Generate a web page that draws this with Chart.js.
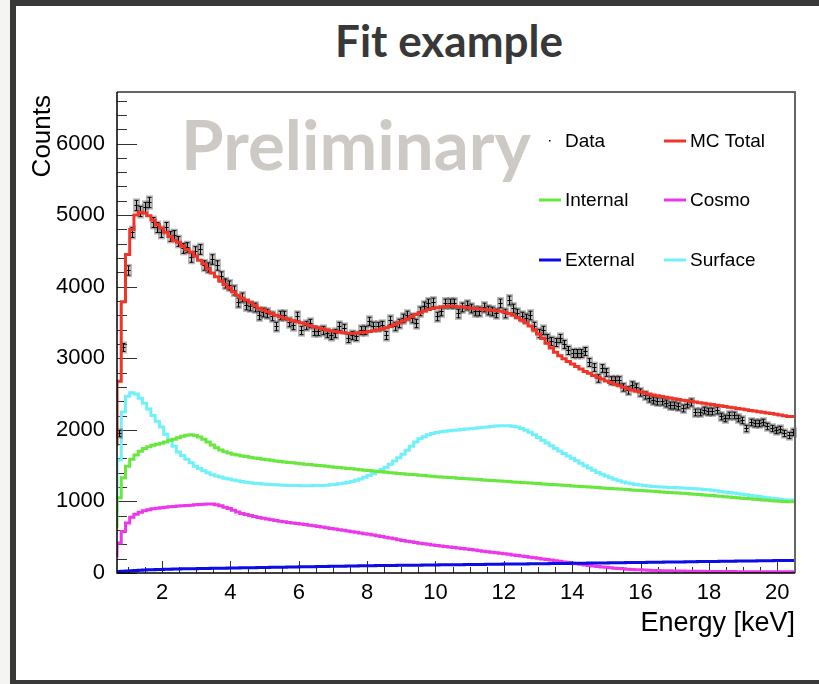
<!DOCTYPE html>
<html>
<head>
<meta charset="utf-8">
<title>Fit example</title>
<script src="https://cdn.jsdelivr.net/npm/chart.js@4.4.1/dist/chart.umd.min.js"></script>
<style>
  html, body { margin: 0; padding: 0; }
  body { width: 819px; height: 684px; position: relative; overflow: hidden; background: #fff; }
  .strip { position: absolute; left: 0; top: 0; width: 10px; height: 684px; background: #f4f4f2; }
  .edge { position: absolute; background: #3a3939; }
  #title { position: absolute; left: 449px; top: 18px; margin: 0; transform: translateX(-50%);
           font: 700 44px/1 "Lato", sans-serif; color: #383838; white-space: nowrap; }
  #fit { position: absolute; left: 0; top: 0; }
  #prelim { position: absolute; left: 181px; top: 109px; font: 700 69px/1 "Lato", sans-serif;
            color: #cdc9c4; white-space: nowrap; pointer-events: none; }
  #ylabel { position: absolute; left: 0; top: 0; width: 200px; text-align: right;
            font: 26px/1 "Liberation Sans", Arial, sans-serif; color: #000; white-space: nowrap;
            transform-origin: 0 0; transform: translate(28px, 295px) rotate(-90deg); }
  #xlabel { position: absolute; right: 24px; top: 609px; font: 27px/1 "Liberation Sans", Arial, sans-serif;
            color: #000; white-space: nowrap; }
</style>
</head>
<body>
<div class="strip"></div>
<div class="edge" style="left:10px;top:0;width:6px;height:684px"></div>
<div class="edge" style="left:10px;top:0;width:809px;height:6px"></div>
<div class="edge" style="left:10px;top:680px;width:809px;height:4px"></div>
<h1 id="title">Fit example</h1>
<canvas id="fit" width="819" height="684"></canvas>
<div id="prelim">Preliminary</div>
<div id="ylabel">Counts</div>
<div id="xlabel">Energy [keV]</div>
<script>
// binning: first bin sits just left of the axis (partially hidden), then 160 bins up to 20.52 keV
const firstEdge = 0.556;
const binWidth = 0.124;

const xTicks = [2, 4, 6, 8, 10, 12, 14, 16, 18, 20];
const yTicks = [0, 1000, 2000, 3000, 4000, 5000, 6000];

const dataCounts = [
  null,
  1950, 3160, 4240, 4770, 5140, 5060, 5110, 5190, 4900, 4840,
  4760, 4840, 4710, 4720, 4640, 4540, 4560, 4420, 4500, 4520,
  4310, 4280, 4380, 4300, 4150, 4050, 4030, 3960, 3790, 3850,
  3750, 3730, 3720, 3610, 3640, 3630, 3590, 3450, 3610, 3600,
  3510, 3470, 3585, 3400, 3470, 3490, 3375, 3375, 3400, 3350,
  3330, 3360, 3445, 3420, 3280, 3330, 3305, 3400, 3400, 3515,
  3450, 3445, 3470, 3330, 3540, 3445, 3490, 3560, 3610, 3560,
  3490, 3655, 3725, 3770, 3790, 3585, 3655, 3770, 3770, 3770,
  3630, 3720, 3745, 3700, 3655, 3655, 3720, 3680, 3660, 3630,
  3770, 3630, 3815, 3700, 3630, 3585, 3560, 3605, 3450, 3350,
  3400, 3290, 3240, 3230, 3280, 3200, 3110, 3075, 3070, 3075,
  3095, 2950, 2880, 2720, 2860, 2815, 2700, 2690, 2700, 2600,
  2560, 2625, 2600, 2535, 2480, 2445, 2420, 2405, 2400, 2375,
  2350, 2350, 2330, 2310, 2360, 2390, 2255, 2255, 2280, 2260,
  2270, 2280, 2200, 2165, 2210, 2210, 2170, 2140, 2025, 2115,
  2095, 2090, 2110, 2060, 2020, 2000, 2010, 1960, 1930, 1975
];

const mcTotal = [
  900,
  1800, 2680, 3790, 4450, 4800, 5000, 5040, 5030, 4990, 4930,
  4870, 4820, 4760, 4700, 4650, 4620, 4570, 4520, 4480, 4430,
  4370, 4320, 4250, 4190, 4140, 4080, 4030, 3980, 3930, 3880,
  3840, 3815, 3780, 3740, 3700, 3675, 3650, 3625, 3600, 3580,
  3560, 3540, 3525, 3510, 3495, 3480, 3455, 3440, 3425, 3410,
  3395, 3385, 3375, 3365, 3355, 3350, 3350, 3350, 3355, 3365,
  3375, 3385, 3395, 3410, 3425, 3445, 3470, 3495, 3520, 3550,
  3580, 3610, 3635, 3660, 3680, 3695, 3705, 3715, 3720, 3725,
  3725, 3720, 3715, 3705, 3700, 3695, 3690, 3685, 3678, 3670,
  3665, 3658, 3645, 3625, 3600, 3570, 3535, 3495, 3450, 3400,
  3340, 3275, 3210, 3145, 3085, 3035, 2995, 2955, 2920, 2885,
  2850, 2815, 2790, 2760, 2735, 2710, 2683, 2660, 2638, 2615,
  2595, 2575, 2558, 2542, 2527, 2514, 2500, 2488, 2476, 2466,
  2455, 2445, 2435, 2425, 2415, 2405, 2398, 2390, 2380, 2372,
  2362, 2355, 2345, 2335, 2325, 2316, 2307, 2298, 2290, 2281,
  2272, 2263, 2254, 2245, 2236, 2227, 2218, 2208, 2198, 2188
];

const internal = [
  250,
  650, 1050, 1330, 1490, 1590, 1650, 1700, 1740, 1765, 1785,
  1800, 1812, 1830, 1850, 1870, 1890, 1910, 1925, 1930, 1920,
  1900, 1870, 1830, 1790, 1750, 1720, 1695, 1675, 1660, 1648,
  1636, 1626, 1616, 1607, 1598, 1590, 1582, 1574, 1566, 1559,
  1552, 1545, 1539, 1533, 1527, 1521, 1515, 1509, 1503, 1497,
  1491, 1485, 1479, 1473, 1467, 1461, 1455, 1449, 1443, 1437,
  1431, 1425, 1419, 1413, 1407, 1401, 1396, 1391, 1386, 1381,
  1376, 1371, 1366, 1361, 1356, 1351, 1346, 1341, 1337, 1333,
  1329, 1325, 1321, 1317, 1313, 1309, 1305, 1301, 1297, 1293,
  1289, 1285, 1281, 1277, 1273, 1269, 1265, 1261, 1257, 1253,
  1249, 1245, 1241, 1237, 1233, 1229, 1225, 1221, 1217, 1213,
  1209, 1205, 1201, 1197, 1193, 1189, 1185, 1181, 1177, 1173,
  1169, 1165, 1161, 1157, 1153, 1149, 1145, 1141, 1137, 1133,
  1129, 1125, 1121, 1117, 1113, 1109, 1105, 1101, 1096, 1091,
  1086, 1081, 1076, 1071, 1066, 1061, 1056, 1051, 1046, 1041,
  1036, 1031, 1026, 1021, 1016, 1011, 1007, 1003, 999, 995
];

const cosmo = [
  120,
  240, 420, 580, 700, 780, 820, 850, 870, 885, 897,
  905, 912, 918, 924, 930, 936, 940, 944, 948, 952,
  956, 961, 965, 964, 955, 940, 920, 900, 875, 852,
  833, 817, 803, 789, 776, 764, 753, 743, 733, 724,
  715, 707, 700, 693, 685, 677, 668, 659, 650, 641,
  632, 623, 614, 605, 596, 587, 578, 569, 560, 550,
  540, 530, 520, 510, 499, 488, 477, 466, 455, 445,
  435, 426, 417, 408, 400, 392, 384, 376, 369, 362,
  355, 348, 341, 334, 327, 320, 312, 305, 298, 290,
  283, 276, 268, 261, 253, 245, 237, 229, 221, 213,
  205, 197, 188, 180, 172, 163, 155, 146, 137, 129,
  121, 113, 106, 99, 92, 85, 79, 73, 68, 63,
  58, 54, 50, 47, 44, 41, 38, 36, 34, 32,
  31, 30, 29, 28, 27, 26, 25, 24, 23, 23,
  22, 22, 21, 21, 20, 20, 20, 19, 19, 19,
  19, 19, 18, 18, 18, 18, 18, 18, 18, 18
];

const external = [
  12,
  18, 22, 26, 29, 32, 35, 38, 41, 44, 46,
  48, 50, 52, 54, 55, 57, 58, 59, 60, 61,
  62, 63, 64, 65, 66, 67, 68, 69, 70, 71,
  72, 73, 74, 75, 76, 77, 78, 79, 80, 81,
  82, 83, 84, 85, 86, 87, 88, 89, 90, 91,
  92, 93, 94, 95, 96, 97, 98, 99, 100, 101,
  102, 103, 104, 104, 105, 106, 106, 107, 108, 108,
  109, 110, 110, 111, 112, 112, 113, 114, 114, 115,
  116, 116, 117, 118, 118, 119, 120, 120, 121, 122,
  122, 123, 124, 124, 125, 126, 126, 127, 128, 128,
  129, 130, 130, 131, 132, 132, 133, 134, 135, 135,
  136, 137, 138, 139, 139, 140, 141, 142, 143, 143,
  144, 145, 146, 147, 147, 148, 149, 150, 151, 151,
  152, 153, 154, 155, 155, 156, 157, 158, 159, 159,
  160, 161, 162, 163, 163, 164, 165, 166, 167, 167,
  168, 169, 170, 171, 171, 172, 173, 174, 175, 176
];

const surface = [
  370,
  880, 1580, 2250, 2470, 2520, 2500, 2440, 2370, 2290, 2200,
  2120, 2040, 1940, 1860, 1770, 1690, 1640, 1590, 1540, 1490,
  1460, 1430, 1400, 1372, 1355, 1340, 1325, 1313, 1300, 1288,
  1278, 1268, 1260, 1254, 1249, 1245, 1240, 1236, 1232, 1229,
  1226, 1224, 1222, 1221, 1220, 1220, 1220, 1221, 1222, 1224,
  1227, 1232, 1238, 1246, 1255, 1266, 1280, 1296, 1315, 1338,
  1362, 1388, 1416, 1446, 1478, 1520, 1565, 1610, 1660, 1715,
  1770, 1830, 1875, 1905, 1930, 1948, 1962, 1972, 1980, 1987,
  1993, 1999, 2005, 2011, 2017, 2023, 2029, 2035, 2041, 2047,
  2052, 2056, 2058, 2056, 2048, 2040, 2020, 1995, 1965, 1930,
  1893, 1855, 1816, 1777, 1740, 1705, 1670, 1636, 1602, 1568,
  1534, 1500, 1466, 1435, 1405, 1378, 1354, 1332, 1310, 1290,
  1272, 1258, 1246, 1236, 1228, 1221, 1215, 1210, 1206, 1202,
  1199, 1196, 1193, 1190, 1187, 1184, 1181, 1177, 1173, 1168,
  1162, 1155, 1148, 1140, 1132, 1124, 1116, 1108, 1100, 1092,
  1084, 1076, 1068, 1060, 1052, 1045, 1038, 1031, 1025, 1020
];

const legendOrder = ['Data', 'MC Total', 'Internal', 'Cosmo', 'External', 'Surface'];

// histogram outline: one point per lower bin edge, plus the closing upper edge
function histPoints(values) {
  const pts = values.map((v, j) => ({ x: firstEdge + j * binWidth, y: v }));
  pts.push({ x: firstEdge + values.length * binWidth, y: values[values.length - 1] });
  return pts;
}

function centerPoints(values) {
  const pts = [];
  values.forEach((v, j) => {
    if (v !== null) pts.push({ x: firstEdge + (j + 0.5) * binWidth, y: v });
  });
  return pts;
}

function hist(label, values, color, order) {
  return {
    type: 'line',
    label: label,
    data: histPoints(values),
    borderColor: color,
    borderWidth: 3,
    stepped: 'after',
    pointRadius: 0,
    fill: false,
    clip: 0,
    order: order
  };
}

// ROOT-style ticks drawn inside the frame
const frameTicks = {
  id: 'frameTicks',
  beforeDatasetsDraw(chart) {
    const { ctx, chartArea: a, scales: { x, y } } = chart;
    ctx.save();
    ctx.strokeStyle = '#333';
    ctx.lineWidth = 1;
    ctx.beginPath();
    for (let v = 0; v <= y.max; v += 200) {
      const py = Math.round(y.getPixelForValue(v)) + 0.5;
      const len = v % 1000 === 0 ? 20 : 10;
      ctx.moveTo(a.left, py);
      ctx.lineTo(a.left + len, py);
    }
    for (let v = Math.ceil(x.min * 2) / 2; v <= x.max; v += 0.5) {
      const px = Math.round(x.getPixelForValue(v)) + 0.5;
      const len = v % 2 === 0 ? 12 : 6;
      ctx.moveTo(px, a.bottom);
      ctx.lineTo(px, a.bottom - len);
    }
    ctx.stroke();
    ctx.restore();
  },
  afterDraw(chart) {
    const { ctx, chartArea: a } = chart;
    ctx.save();
    ctx.strokeStyle = '#666';
    ctx.lineWidth = 2;
    ctx.beginPath();
    ctx.moveTo(a.left, a.top);
    ctx.lineTo(a.right, a.top);
    ctx.lineTo(a.right, a.bottom);
    ctx.stroke();
    ctx.strokeStyle = '#000';
    ctx.lineWidth = 1.5;
    ctx.beginPath();
    ctx.moveTo(a.left, a.top);
    ctx.lineTo(a.left, a.bottom);
    ctx.lineTo(a.right, a.bottom);
    ctx.stroke();
    ctx.restore();
  }
};

// data points with sqrt(N) error bars and half-bin horizontal bars
const errorBars = {
  id: 'errorBars',
  afterDatasetDraw(chart, args) {
    const ds = chart.data.datasets[args.index];
    if (!ds.isData) return;
    const { ctx, scales: { x, y } } = chart;
    ctx.save();
    ds.data.forEach(p => {
      const px = Math.round(x.getPixelForValue(p.x)) + 0.5;
      const py = Math.round(y.getPixelForValue(p.y)) + 0.5;
      const s = y.getPixelForValue(p.y - Math.sqrt(p.y)) - y.getPixelForValue(p.y);
      const hw = (x.getPixelForValue(p.x + binWidth / 2) - x.getPixelForValue(p.x - binWidth / 2)) / 2;
      ctx.fillStyle = 'rgba(60,60,60,0.36)';
      ctx.fillRect(px - 3.5, py - s - 2, 7, 2 * s + 4);
      ctx.strokeStyle = '#000';
      ctx.lineWidth = 1;
      ctx.beginPath();
      ctx.moveTo(px, py - s); ctx.lineTo(px, py + s);
      ctx.moveTo(px - hw, py); ctx.lineTo(px + hw, py);
      ctx.moveTo(px - 2, py - s); ctx.lineTo(px + 2, py - s);
      ctx.moveTo(px - 2, py + s); ctx.lineTo(px + 2, py + s);
      ctx.stroke();
    });
    ctx.restore();
  }
};

// two-column legend inside the frame
const legendGrid = {
  id: 'legendGrid',
  afterDraw(chart, args, opts) {
    const { ctx } = chart;
    ctx.save();
    ctx.font = '19px "Liberation Sans", Arial, sans-serif';
    ctx.textBaseline = 'middle';
    legendOrder.forEach((name, i) => {
      const ds = chart.data.datasets.find(d => d.label === name);
      const lx = opts.colX[i % 2];
      const ly = opts.rowY[Math.floor(i / 2)];
      if (ds.isData) {
        ctx.fillStyle = '#000';
        ctx.fillRect(lx + 10, ly - 1, 1.5, 1.5);
      } else {
        ctx.strokeStyle = ds.borderColor;
        ctx.lineWidth = 3;
        ctx.beginPath();
        ctx.moveTo(lx, ly);
        ctx.lineTo(lx + opts.lineLen, ly);
        ctx.stroke();
      }
      ctx.fillStyle = '#000';
      ctx.fillText(name, lx + opts.lineLen + 4, ly + 1);
    });
    ctx.restore();
  }
};

const tickFont = { family: '"Liberation Sans", Arial, sans-serif', size: 22 };
const plainLabel = v => String(v);

new Chart(document.getElementById('fit'), {
  type: 'line',
  data: {
    datasets: [
      {
        type: 'scatter',
        label: 'Data',
        isData: true,
        data: centerPoints(dataCounts),
        pointRadius: 0,
        showLine: false,
        order: 2
      },
      hist('MC Total', mcTotal, 'rgb(240,52,40)', 1),
      hist('Internal', internal, 'rgb(104,232,62)', 5),
      hist('Cosmo', cosmo, 'rgb(234,56,234)', 4),
      hist('External', external, 'rgb(12,12,228)', 3),
      hist('Surface', surface, 'rgb(112,240,248)', 6)
    ]
  },
  options: {
    responsive: false,
    devicePixelRatio: 1,
    animation: false,
    layout: { padding: { left: 17, right: 24, top: 92, bottom: 0 } },
    scales: {
      x: {
        type: 'linear',
        min: 0.68,
        max: 20.52,
        grid: { display: false, drawTicks: false },
        border: { display: false },
        ticks: { font: tickFont, color: '#000', padding: 7, maxRotation: 0, autoSkip: false, callback: plainLabel },
        afterBuildTicks: s => { s.ticks = xTicks.map(v => ({ value: v })); },
        afterFit: s => { s.height = 111; }
      },
      y: {
        min: 0,
        max: 6720,
        grid: { display: false, drawTicks: false },
        border: { display: false },
        ticks: { font: tickFont, color: '#000', padding: 12, callback: plainLabel },
        afterBuildTicks: s => { s.ticks = yTicks.map(v => ({ value: v })); },
        afterFit: s => { s.width = 100; }
      }
    },
    plugins: {
      legend: { display: false },
      tooltip: { enabled: false },
      legendGrid: { colX: [539, 664], rowY: [141, 200, 260], lineLen: 22 }
    }
  },
  plugins: [frameTicks, errorBars, legendGrid]
});
</script>
</body>
</html>
